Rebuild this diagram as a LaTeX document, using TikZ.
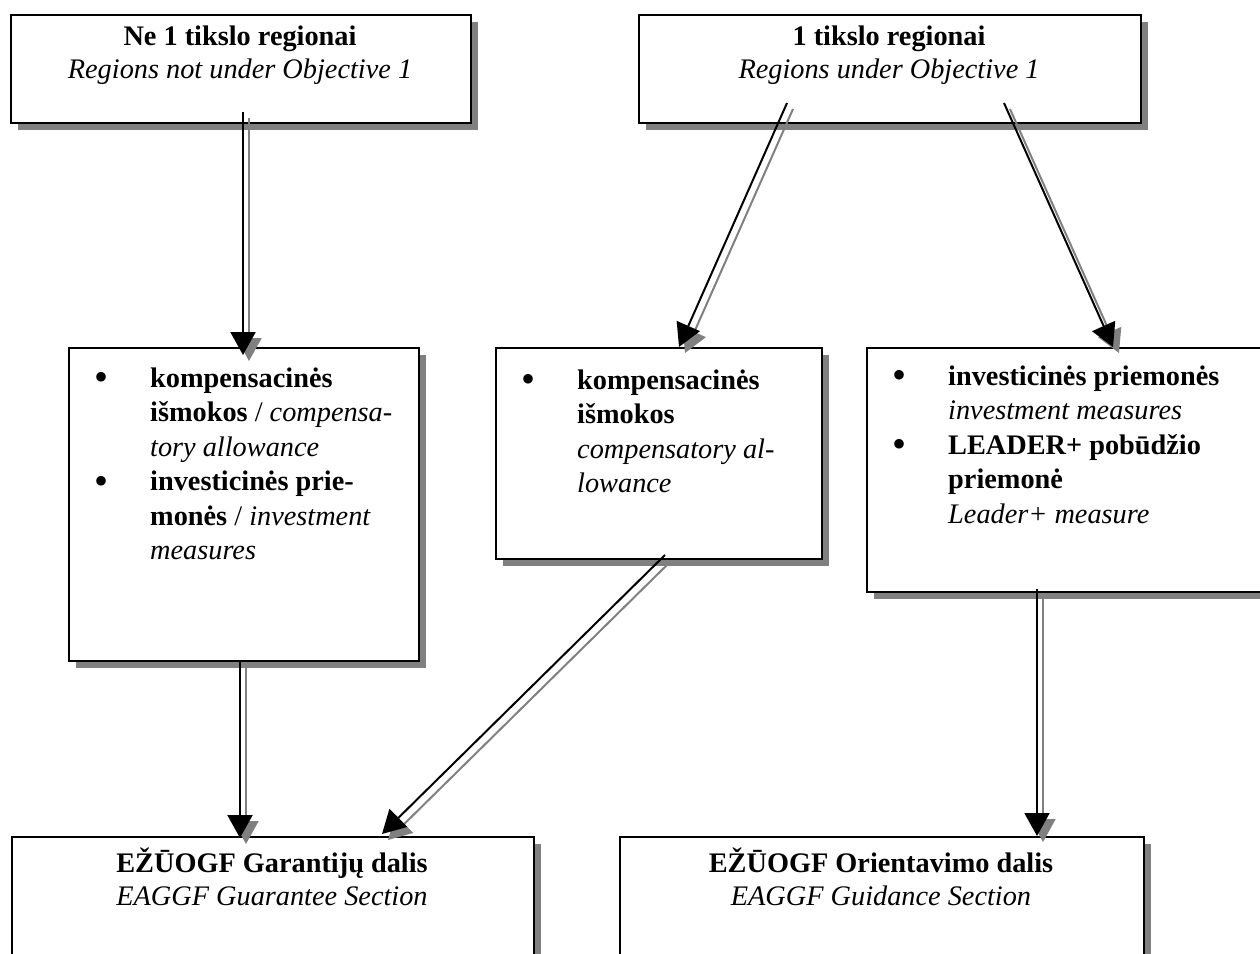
\documentclass[tikz,border=0pt]{standalone}
\usepackage{fontspec}
\setmainfont{Liberation Serif}
\usetikzlibrary{arrows.meta,shadows}
\definecolor{shgray}{RGB}{128,128,128}
\newcommand{\bigbul}{\raisebox{-3.5pt}{\fontsize{40}{34}\selectfont\textbullet}}
\begin{document}
\begin{tikzpicture}[x=1pt,y=-1pt,
  box/.style={draw=black, line width=2.4pt, fill=white, rectangle, inner sep=0pt,
    anchor=north west,
    drop shadow={shadow xshift=7pt, shadow yshift=-7pt, fill=shgray, opacity=1, draw=none}},
  arr/.style={draw=black, line width=2pt, -{Triangle[length=23pt,width=25pt]}},
  arrsh/.style={draw=shgray, fill=shgray, line width=2pt, -{Triangle[length=23pt,width=25pt]},
    transform canvas={xshift=6pt,yshift=-6pt}},
  txt/.style={inner sep=0pt, font=\fontsize{28.3}{33}\selectfont},
  btxt/.style={inner sep=0pt, font=\fontsize{28.3}{34.5}\selectfont, anchor=base west},
]
\useasboundingbox (0,0) rectangle (1260,953);
\clip (0,0) rectangle (1260,953);

% boxes
\node[box, minimum width=460pt, minimum height=108pt] (b1) at (10,14) {};
\node[box, minimum width=502pt, minimum height=108pt] (b2) at (638,14) {};
\node[box, minimum width=350pt, minimum height=313pt] (b3) at (68,347) {};
\node[box, minimum width=326pt, minimum height=211pt] (b4) at (495,347) {};
\node[box, minimum width=424pt, minimum height=244pt] (b5) at (866,347) {};
\node[box, minimum width=522pt, minimum height=164pt] (b6) at (11,836) {};
\node[box, minimum width=524pt, minimum height=164pt] (b7) at (619,836) {};

% texts
\node[txt, anchor=base] (t1) at (240,45) {\begin{tabular}[t]{@{}c@{}}\textbf{Ne 1 tikslo regionai}\\ \textit{Regions not under Objective 1}\end{tabular}};
\node[txt, anchor=base] (t2) at (889,45) {\begin{tabular}[t]{@{}c@{}}\textbf{1 tikslo regionai}\\ \textit{Regions under Objective 1}\end{tabular}};
\node[txt, anchor=base] (t6) at (272,872) {\begin{tabular}[t]{@{}c@{}}\textbf{EŽŪOGF Garantijų dalis}\\ \textit{EAGGF Guarantee Section}\end{tabular}};
\node[txt, anchor=base] (t7) at (881,872) {\begin{tabular}[t]{@{}c@{}}\textbf{EŽŪOGF Orientavimo dalis}\\ \textit{EAGGF Guidance Section}\end{tabular}};

\node[btxt] (t3) at (94,387) {\begin{tabular}[t]{@{}p{56pt}@{}l@{}}
\bigbul & \textbf{kompensacinės}\\
 & \textbf{išmokos} / \textit{compensa-}\\
 & \textit{tory allowance}\\
\bigbul & \textbf{investicinės prie-}\\
 & \textbf{monės} / \textit{investment}\\
 & \textit{measures}
\end{tabular}};

\node[btxt] (t4) at (521,389) {\begin{tabular}[t]{@{}p{56pt}@{}l@{}}
\bigbul & \textbf{kompensacinės}\\
 & \textbf{išmokos}\\
 & \textit{compensatory al-}\\
 & \textit{lowance}
\end{tabular}};

\node[btxt] (t5) at (892,385) {\begin{tabular}[t]{@{}p{56pt}@{}l@{}}
\bigbul & \textbf{investicinės priemonės}\\
 & \textit{investment measures}\\
\bigbul & \textbf{LEADER+ pobūdžio}\\
 & \textbf{priemonė}\\
 & \textit{Leader+ measure}
\end{tabular}};

% connector end points
\coordinate (a1s) at (243,112); \coordinate (a1e) at (243,355);
\coordinate (a2s) at (787,103); \coordinate (a2e) at (679,347);
\coordinate (a3s) at (1004,103); \coordinate (a3e) at (1113,347);
\coordinate (a4s) at (665,555); \coordinate (a4e) at (382,834);
\coordinate (a5s) at (240,660); \coordinate (a5e) at (240,838);
\coordinate (a6s) at (1037,589); \coordinate (a6e) at (1037,836);

% shadows of arrows
\foreach \k in {1,...,6} { \draw[arrsh] (a\k s) -- (a\k e); }
% arrows
\foreach \k in {1,...,6} { \draw[arr] (a\k s) -- (a\k e); }
\end{tikzpicture}
\end{document}
